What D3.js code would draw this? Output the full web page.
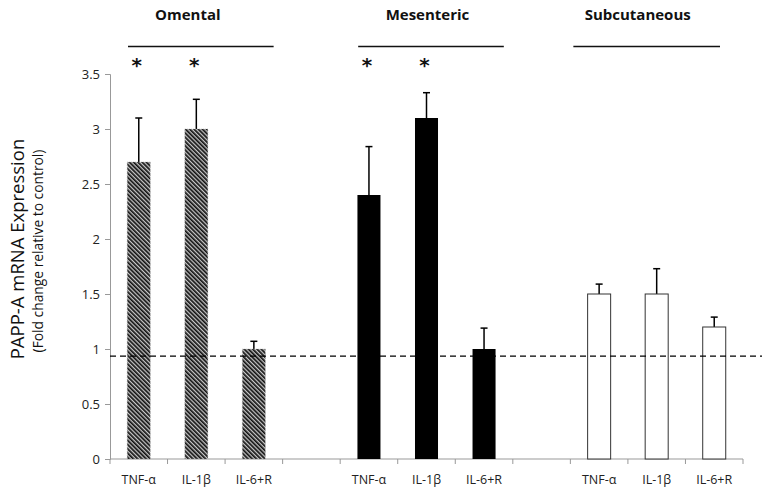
<!DOCTYPE html>
<html><head><meta charset="utf-8">
<script src="https://cdn.jsdelivr.net/npm/d3@7"></script>
<style>body{margin:0;background:#fff}</style>
</head><body>
<svg id="c" width="762" height="494"></svg>
<script>
const categories = ["o1","o2","o3","g1","m1","m2","m3","g2","s1","s2","s3"];
const tickLabels = ["TNF-α","IL-1β","IL-6+R","","TNF-α","IL-1β","IL-6+R","","TNF-α","IL-1β","IL-6+R"];
const groups = ["Omental","Mesenteric","Subcutaneous"];
const groupCats = [["o1","o2","o3"],["m1","m2","m3"],["s1","s2","s3"]];
const groupFill = ["hatch","black","white"];
const omentalVals = [2.7, 3.0, 1.0];
const omentalErr = [3.1, 3.27, 1.07];
const mesentericVals = [2.4, 3.1, 1.0];
const mesentericErr = [2.84, 3.33, 1.19];
const subcutVals = [1.5, 1.5, 1.2];
const subcutErr = [1.59, 1.73, 1.29];
const significant = [[true,true,false],[true,true,false],[false,false,false]];
const refLevel = 0.935;
const yTicks = [0,0.5,1,1.5,2,2.5,3,3.5];

// layout constants (pixel offsets relative to group band edges)
const titleShift = [-8.5, 1, -19];
const lineShift = [[18, -9], [18, -9], [3, -23]];

const svg = d3.select("#c");
const mLeft = 110, mRight = 743, mTop = 74, mBottom = 459;
const x = d3.scaleBand().domain(categories).range([mLeft, mRight]).paddingInner(0.6).paddingOuter(0.3);
const xb = d3.scaleBand().domain(categories).range([mLeft, mRight]);
const y = d3.scaleLinear().domain([0,3.5]).range([mBottom, mTop]);

const defs = svg.append("defs");
const pat = defs.append("pattern").attr("id","hatch").attr("patternUnits","userSpaceOnUse")
  .attr("width",3).attr("height",3).attr("patternTransform","rotate(-45)");
pat.append("rect").attr("width",3).attr("height",3).attr("fill","#c8c8c8");
pat.append("rect").attr("width",1.7).attr("height",3).attr("fill","#111");

const yAxis = svg.append("g").attr("transform",`translate(${mLeft},0)`)
  .call(d3.axisLeft(y).tickValues(yTicks).tickSize(5).tickPadding(5).tickFormat(d=>String(d)));
yAxis.select(".domain").attr("stroke","#999");
yAxis.selectAll(".tick line").attr("stroke","#999");
yAxis.selectAll("text").attr("font-family","Open Sans, sans-serif").attr("font-size",13).attr("fill","#222");

const xg = svg.append("g").attr("transform",`translate(0,${mBottom})`);
xg.append("line").attr("x1",mLeft).attr("x2",mRight).attr("stroke","#999");
const bounds = categories.map(c=>xb(c)).concat([mRight]);
xg.selectAll("line.t").data(bounds).join("line").attr("class","t")
  .attr("x1",d=>d).attr("x2",d=>d).attr("y1",0).attr("y2",5).attr("stroke","#999");
xg.selectAll("text").data(categories).join("text")
  .attr("x",d=>xb(d)+xb.bandwidth()/2).attr("y",25).attr("text-anchor","middle")
  .attr("font-family","Open Sans, sans-serif").attr("font-size",12.5).attr("fill","#222")
  .text((d,i)=>tickLabels[i]);

const vals = [omentalVals, mesentericVals, subcutVals];
const errs = [omentalErr, mesentericErr, subcutErr];
groups.forEach((g,gi)=>{
  groupCats[gi].forEach((c,ci)=>{
    const v = vals[gi][ci], e = errs[gi][ci];
    const bx = x(c), bw = x.bandwidth(), cx = bx + bw/2;
    svg.append("line").attr("x1",cx).attr("x2",cx).attr("y1",y(v)).attr("y2",y(e)).attr("stroke","#000").attr("stroke-width",1.5);
    svg.append("line").attr("x1",cx-3.5).attr("x2",cx+3.5).attr("y1",y(e)).attr("y2",y(e)).attr("stroke","#000").attr("stroke-width",1.5);
    const r = svg.append("rect").attr("x",bx).attr("y",y(v)).attr("width",bw).attr("height",y(0)-y(v));
    if (groupFill[gi]==="hatch") r.attr("fill","url(#hatch)").attr("stroke","#aaa").attr("stroke-width",0.6).attr("stroke-dasharray","1,1");
    else if (groupFill[gi]==="black") r.attr("fill","#000");
    else r.attr("fill","#fff").attr("stroke","#333").attr("stroke-width",1);
    if (significant[gi][ci]) {
      svg.append("text").attr("x",cx-2).attr("y",72).attr("text-anchor","middle")
        .attr("font-family","DejaVu Sans, sans-serif").attr("font-weight","bold").attr("font-size",20).attr("fill","#111").text("*");
    }
  });
  const c0 = groupCats[gi][0], c2 = groupCats[gi][2];
  const x0 = xb(c0)+lineShift[gi][0], x1 = xb(c2)+xb.bandwidth()+lineShift[gi][1];
  svg.append("line").attr("x1",x0).attr("x2",x1).attr("y1",46.5).attr("y2",46.5).attr("stroke","#111").attr("stroke-width",1.3);
  svg.append("text").attr("x",(xb(c0)+xb(c2)+xb.bandwidth())/2+titleShift[gi]).attr("y",20).attr("text-anchor","middle")
    .attr("font-family","Open Sans, sans-serif").attr("font-weight","bold").attr("font-size",15).attr("fill","#111").text(g);
});

svg.append("line").attr("x1",mLeft).attr("x2",762).attr("y1",y(refLevel)).attr("y2",y(refLevel))
  .attr("stroke","#000").attr("stroke-width",1.3).attr("stroke-dasharray","6,4");

svg.append("text").attr("transform","translate(24,249) rotate(-90)").attr("text-anchor","middle")
  .attr("font-family","Open Sans, sans-serif").attr("font-size",18.5).attr("fill","#111").text("PAPP-A mRNA Expression");
svg.append("text").attr("transform","translate(43,251) rotate(-90)").attr("text-anchor","middle")
  .attr("font-family","Open Sans, sans-serif").attr("font-size",13.8).attr("fill","#111").text("(Fold change relative to control)");
</script>
</body></html>
